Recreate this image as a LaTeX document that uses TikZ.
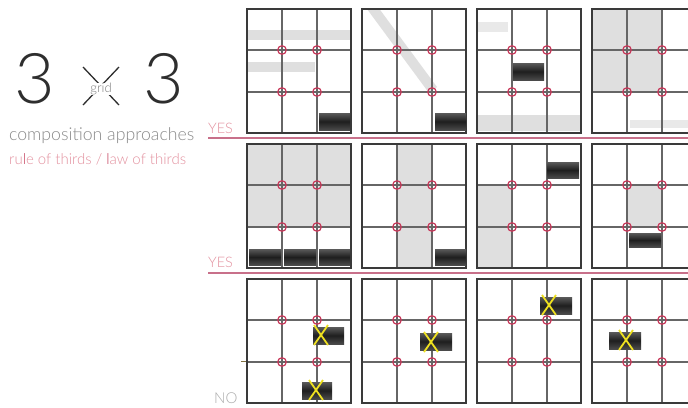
\documentclass[tikz,border=0pt]{standalone}
\usepackage{fontspec}
\setmainfont{Lato Light}
\definecolor{gridborder}{HTML}{3A3A3A}
\definecolor{gridinner}{HTML}{666666}
\definecolor{ptred}{HTML}{C8385A}
\definecolor{lightgrey}{HTML}{DFDFDF}
\definecolor{palegrey}{HTML}{E9E9E9}
\definecolor{blocktop}{HTML}{5A5A5A}
\definecolor{blockmid}{HTML}{1E1E1E}
\definecolor{blockbot}{HTML}{4A4A4A}
\definecolor{xyellow}{HTML}{EEE020}
\definecolor{pinktext}{HTML}{E3909E}
\definecolor{lred}{HTML}{C4405E}
\definecolor{sepline}{HTML}{C8708A}
\definecolor{subgrey}{HTML}{8A8A8A}
\definecolor{gridgrey}{HTML}{7A7A7A}
\definecolor{titledark}{HTML}{2E2E2E}
\definecolor{nogrey}{HTML}{ABABAB}
\definecolor{tickcol}{HTML}{807040}
\tikzset{
  border/.style={draw=gridborder, line width=1.3pt},
  innerline/.style={draw=gridinner, line width=1.6pt},
  thirdpt/.style={draw=ptred, line width=1.2pt},
  lightfill/.style={fill=lightgrey},
  palefill/.style={fill=palegrey},
  darkblock/.style={top color=blocktop, bottom color=blockbot, middle color=blockmid},
  xmark/.style={draw=xyellow, line width=1.8pt},
  txt/.style={anchor=base west, inner sep=0pt},
  ymark/.pic={\draw[xmark] (-7,-10) -- (7,10) (-7,10) -- (7,-10);}
}
\begin{document}
\begin{tikzpicture}[x=1pt,y=-1pt]
\useasboundingbox (0,0) rectangle (688,407);
\clip (0,0) rectangle (688,407);
\fill[white] (0,0) rectangle (688,407);

% ---- left title ----
\node[txt, text=titledark, font=\fontsize{70}{70}\selectfont] (threeA) at (14,103) {3};
\node[txt, text=titledark, font=\fontsize{70}{70}\selectfont] (threeB) at (143,103) {3};
\coordinate (xa) at (83,67);
\coordinate (xb) at (119,105);
\coordinate (xc) at (119,67);
\coordinate (xd) at (83,105);
\draw[titledark, line width=1.3pt] (xa) -- (xb) (xc) -- (xd);
\node[fill=white, inner sep=0.3pt, text=gridgrey, font=\fontsize{13}{13}\selectfont] (gridlbl) at (101,89) {grid};
\node[txt, text=subgrey] (comp) at (9,140) {\resizebox{185pt}{!}{composition approaches}};
\node[txt, text=pinktext] (rule) at (9,164) {\resizebox{177pt}{!}{ru{\color{lred}l}e of thirds / {\color{lred}l}aw of thirds}};

% ---- row labels and separators ----
\node[txt, text=pinktext, font=\fontsize{14.5}{14.5}\selectfont] (yes1) at (208,133) {YES};
\node[txt, text=pinktext, font=\fontsize{14.5}{14.5}\selectfont] (yes2) at (208,267) {YES};
\node[txt, text=nogrey, font=\fontsize{15}{15}\selectfont] (no) at (214,403) {NO};
\coordinate (s1a) at (208,138); \coordinate (s1b) at (688,138);
\coordinate (s2a) at (208,273); \coordinate (s2b) at (688,273);
\draw[sepline, line width=1.4pt] (s1a) -- (s1b);
\draw[sepline, line width=1.4pt] (s2a) -- (s2b);
\coordinate (tka) at (241,361); \coordinate (tkb) at (247,361);
\draw[tickcol, line width=0.8pt] (tka) -- (tkb);

% ---- light fills ----
% row 1
\fill[lightfill] (248,30) rectangle (350,40);
\fill[lightfill] (248,62) rectangle (315,72);
\begin{scope}
\clip (362,9) rectangle (466,133);
\draw[lightgrey, line width=10pt] (371,6) -- (433,90);
\end{scope}
\fill[palefill] (478,22) rectangle (508,32);
\fill[lightfill] (478,115) rectangle (580,131);
\fill[lightfill] (592,9) rectangle (662,92);
\fill[palefill] (630,120) rectangle (688,128);
% row 2
\fill[lightfill] (247,144) rectangle (351,227);
\fill[lightfill] (397,144) rectangle (432,268);
\fill[lightfill] (477,185) rectangle (512,268);
\fill[lightfill] (627,185) rectangle (662,227);

% ---- grids ----
\foreach \px in {247,362,477,592}{
  \foreach \py in {9,144,279}{
    \draw[innerline] (\px+35,\py) -- (\px+35,\py+124);
    \draw[innerline] (\px+70,\py) -- (\px+70,\py+124);
    \draw[innerline] (\px,\py+41) -- (\px+104,\py+41);
    \draw[innerline] (\px,\py+83) -- (\px+104,\py+83);
    \draw[border] (\px,\py) rectangle (\px+104,\py+124);
    \foreach \cx/\cy in {35/41,70/41,35/83,70/83}{
      \draw[thirdpt] (\px+\cx,\py+\cy) circle (4.3);
    }
  }
}

% ---- dark blocks ----
% row 1
\shade[darkblock] (319,113) rectangle (350,130);
\shade[darkblock] (435,113) rectangle (466,130);
\shade[darkblock] (513,63) rectangle (544,80);
% row 2
\shade[darkblock] (249,249) rectangle (281,265);
\shade[darkblock] (284,249) rectangle (316,265);
\shade[darkblock] (319,249) rectangle (350,265);
\shade[darkblock] (435,249) rectangle (466,265);
\shade[darkblock] (547,162) rectangle (579,178);
\shade[darkblock] (629,233) rectangle (661,247);
% row 3
\shade[darkblock] (313,327) rectangle (344,344);
\shade[darkblock] (302,382) rectangle (332,399);
\shade[darkblock] (420,333) rectangle (452,350);
\shade[darkblock] (540,297) rectangle (572,314);
\shade[darkblock] (609,332) rectangle (641,349);

% ---- yellow X marks ----
\pic at (321,335) {ymark};
\pic at (316,390) {ymark};
\pic at (431,342) {ymark};
\pic at (549,305) {ymark};
\pic at (626,340) {ymark};
\end{tikzpicture}
\end{document}
